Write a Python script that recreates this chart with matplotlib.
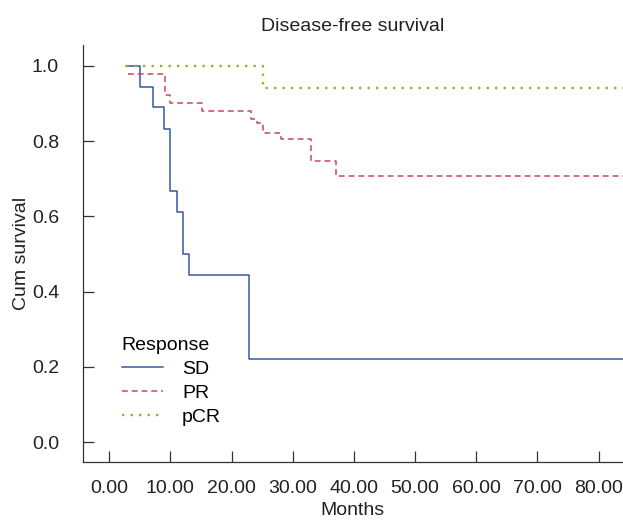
import matplotlib
matplotlib.use("Agg")
import matplotlib.pyplot as plt
from matplotlib import font_manager

# Kaplan-Meier steps (months, cumulative survival)
sd_months = [2.8, 5.0, 7.1, 8.9, 10.0, 11.0, 12.0, 13.0, 22.9, 84.0]
sd_surv = [1.0, 0.944, 0.889, 0.833, 0.667, 0.611, 0.500, 0.444, 0.222, 0.222]

pr_months = [3.1, 9.1, 9.9, 15.1, 23.2, 24.2, 25.1, 28.1, 33.0, 37.0, 84.0]
pr_surv = [0.979, 0.922, 0.900, 0.880, 0.858, 0.847, 0.822, 0.805, 0.747, 0.706, 0.706]

pcr_months = [2.8, 25.1, 84.0]
pcr_surv = [1.0, 0.941, 0.941]

xticks = [0, 10, 20, 30, 40, 50, 60, 70, 80]
yticks = [0.0, 0.2, 0.4, 0.6, 0.8, 1.0]

names = {f.name for f in font_manager.fontManager.ttflist}
family = "Liberation Sans Narrow" if "Liberation Sans Narrow" in names else "Liberation Sans"
plt.rcParams['font.family'] = [family, 'DejaVu Sans']
plt.rcParams['font.size'] = 14

fig = plt.figure(figsize=(6.23, 5.2), dpi=100)
ax = fig.add_axes([0.1327, 0.111, 0.8673, 0.8025])

ax.step(sd_months, sd_surv, where='post', color='#3559a0', lw=1.1, label='SD')
ax.step(pr_months, pr_surv, where='post', color='#c8475c', lw=1.1,
        linestyle=(0, (3.8, 2.6)), label='PR')
ax.step(pcr_months, pcr_surv, where='post', color='#a6a832', lw=1.7,
        linestyle=(0, (1, 2.6)), label='pCR')

ax.set_xlim(-4.35, 84.0)
ax.set_ylim(-0.053, 1.055)
ax.set_xticks(xticks)
ax.set_xticklabels(["%.2f" % t for t in xticks])
ax.set_yticks(yticks)
ax.set_yticklabels(["%.1f" % t for t in yticks])
ax.tick_params(direction='in', length=8, width=0.9, color='#333333', labelcolor='#222222')
ax.tick_params(axis='y', pad=17)
ax.tick_params(axis='x', pad=13)
for s in ['top', 'right']:
  ax.spines[s].set_visible(False)
for s in ['left', 'bottom']:
  ax.spines[s].set_linewidth(0.9)
  ax.spines[s].set_color('#333333')

ax.set_title("Disease-free survival", fontsize=14, pad=10, color='#222222')
ax.set_xlabel("Months", fontsize=14, labelpad=3, color='#222222')
ax.set_ylabel("Cum survival", fontsize=14, labelpad=1, color='#222222')

leg = ax.legend(title="Response", loc='upper left', bbox_to_anchor=(0.058, 0.318),
                frameon=False, fontsize=14, title_fontsize=14, handlelength=2.1,
                handletextpad=1.0, labelspacing=0.32, borderaxespad=0)
leg._legend_box.align = "left"

fig.savefig("out.png", dpi=100)
